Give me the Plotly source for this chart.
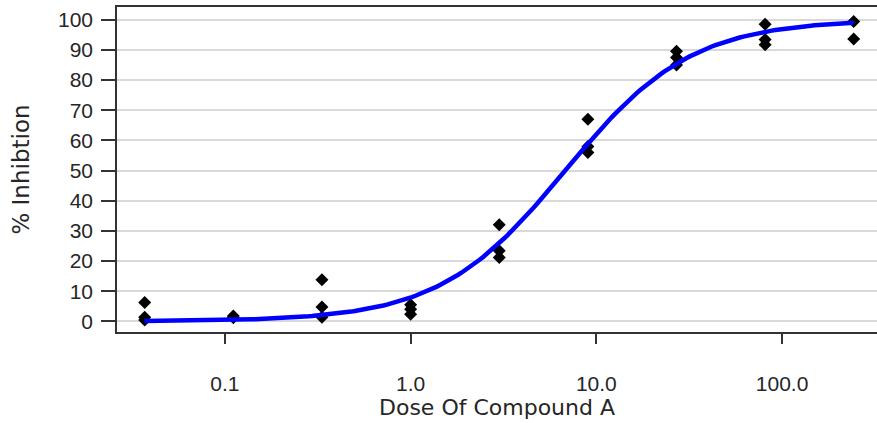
import numpy as np
import plotly.graph_objects as go

# Replicate measurements: dose (3-fold dilution series) and % inhibition
dose = [0.037, 0.037, 0.037,
        0.111, 0.111,
        0.333, 0.333, 0.333,
        1.0, 1.0, 1.0,
        3.0, 3.0, 3.0,
        9.0, 9.0, 9.0,
        27.0, 27.0, 27.0,
        81.0, 81.0, 81.0,
        243.0, 243.0]
inhibition = [6.3, 1.4, 0.5,
              1.8, 1.2,
              13.8, 4.8, 1.4,
              5.5, 4.0, 2.4,
              32.0, 23.4, 21.2,
              67.0, 58.0, 56.0,
              89.5, 87.5, 85.0,
              98.5, 93.4, 91.7,
              99.4, 93.6]

# Four-parameter logistic fit
fit_bottom = 0.0
fit_top = 100.0
fit_ec50 = 6.8
fit_hill = 1.28

x_tick_vals = [0.1, 1, 10, 100]
x_tick_text = ["0.1", "1.0", "10.0", "100.0"]
y_tick_vals = list(range(0, 101, 10))

xs = np.logspace(np.log10(min(dose)), np.log10(max(dose)), 200)
ys = fit_bottom + (fit_top - fit_bottom) / (1 + (fit_ec50 / xs) ** fit_hill)

tick_font = dict(family="Liberation Sans, Arial, sans-serif", size=21, color="#262626")
title_font = dict(family="DejaVu Sans, sans-serif", size=22, color="#262626")

fig = go.Figure()
fig.add_trace(go.Scatter(
    x=dose, y=inhibition, mode="markers",
    marker=dict(symbol="diamond", size=10, color="black"),
    showlegend=False,
))
fig.add_trace(go.Scatter(
    x=xs, y=ys, mode="lines",
    line=dict(color="#0000ff", width=4.5),
    showlegend=False,
))

fig.update_layout(
    width=877, height=423,
    margin=dict(l=117, r=0, t=7, b=91),
    plot_bgcolor="white", paper_bgcolor="white",
    font=tick_font,
)
fig.update_xaxes(
    type="log", range=[-1.581, 2.511],
    tickvals=x_tick_vals, ticktext=x_tick_text, tickfont=tick_font,
    ticks="outside", ticklen=10, tickwidth=1.5, tickcolor="#333",
    showline=True, linecolor="#333", linewidth=1.5, mirror=True,
    showgrid=False, zeroline=False,
    ticklabelstandoff=22,
    title=dict(text="Dose Of Compound A", font=title_font, standoff=1),
)
fig.update_yaxes(
    range=[-3.51, 104.2],
    tickvals=y_tick_vals, tickfont=tick_font,
    ticks="outside", ticklen=14, tickwidth=1.5, tickcolor="#333",
    showline=True, linecolor="#333", linewidth=1.5,
    showgrid=True, gridcolor="#d9d9d9", gridwidth=1.5,
    zeroline=False,
    ticklabelstandoff=4,
    title=dict(text="% Inhibtion", font=dict(title_font, size=23), standoff=22),
)

fig.write_html("out.html")
